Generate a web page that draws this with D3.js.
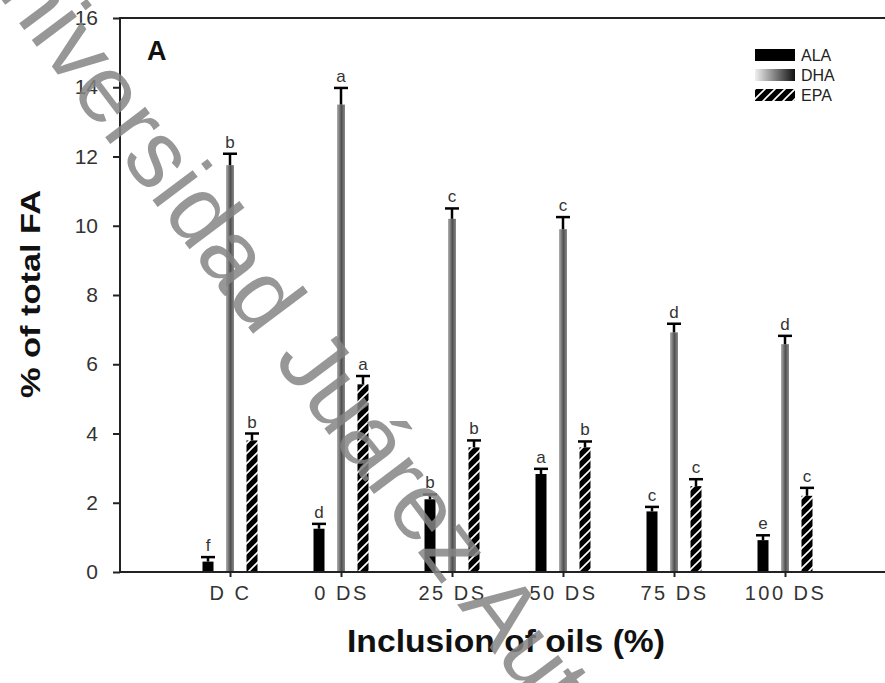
<!DOCTYPE html>
<html>
<head>
<meta charset="utf-8">
<script src="https://cdn.jsdelivr.net/npm/d3@7"></script>
<style>
  body { margin: 0; background: #fff; }
  svg { display: block; }
</style>
</head>
<body>
<svg id="chart" width="885" height="683"></svg>
<script>
const categories = ['D C', '0 DS', '25 DS', '50 DS', '75 DS', '100 DS'];
const series = ['ALA', 'DHA', 'EPA'];

const alaMean = [0.3, 1.25, 2.1, 2.83, 1.75, 0.92];
const alaErr = [0.13, 0.14, 0.14, 0.15, 0.13, 0.14];
const alaLetters = ['f', 'd', 'b', 'a', 'c', 'e'];

const dhaMean = [11.75, 13.5, 10.2, 9.9, 6.92, 6.58];
const dhaErr = [0.33, 0.48, 0.3, 0.35, 0.25, 0.24];
const dhaLetters = ['b', 'a', 'c', 'c', 'd', 'd'];

const epaMean = [3.8, 5.42, 3.6, 3.6, 2.48, 2.2];
const epaErr = [0.2, 0.24, 0.2, 0.17, 0.2, 0.23];
const epaLetters = ['b', 'a', 'b', 'b', 'c', 'c'];

const yTicks = [0, 2, 4, 6, 8, 10, 12, 14, 16];

const svg = d3.select('#chart');
const defs = svg.append('defs');

// hatch for EPA
const hatch = defs.append('pattern')
    .attr('id', 'hatch')
    .attr('patternUnits', 'userSpaceOnUse')
    .attr('width', 10)
    .attr('height', 10);
hatch.append('rect').attr('width', 10).attr('height', 10).attr('fill', '#000');
hatch.append('path')
    .attr('d', 'M-2,2 L2,-2 M0,10 L10,0 M8,12 L12,8')
    .attr('stroke', '#fff')
    .attr('stroke-width', 1.6);

// gradient for DHA bars and legend swatch
const barGrad = defs.append('linearGradient').attr('id', 'dhaBar');
barGrad.append('stop').attr('offset', '0%').attr('stop-color', '#b0b0b0');
barGrad.append('stop').attr('offset', '55%').attr('stop-color', '#505050');
barGrad.append('stop').attr('offset', '100%').attr('stop-color', '#8a8a8a');

const legGrad = defs.append('linearGradient').attr('id', 'dhaLegend');
legGrad.append('stop').attr('offset', '0%').attr('stop-color', '#f0f0f0');
legGrad.append('stop').attr('offset', '100%').attr('stop-color', '#111');

const x = d3.scalePoint().domain(categories).range([230, 785]);
const xs = d3.scalePoint().domain(series).range([-22, 22]);
const y = d3.scaleLinear().domain([0, 16]).range([572, 18]);

const left = 120, right = 885;

const fills = { ALA: '#000', DHA: 'url(#dhaBar)', EPA: 'url(#hatch)' };
const widths = { ALA: 11, DHA: 8, EPA: 11 };

const rows = [];
categories.forEach((c, i) => {
    rows.push({ cat: c, s: 'ALA', v: alaMean[i], e: alaErr[i], l: alaLetters[i] });
    rows.push({ cat: c, s: 'DHA', v: dhaMean[i], e: dhaErr[i], l: dhaLetters[i] });
    rows.push({ cat: c, s: 'EPA', v: epaMean[i], e: epaErr[i], l: epaLetters[i] });
});

// axes
const yAxis = svg.append('g')
    .attr('transform', `translate(${left},0)`)
    .call(d3.axisLeft(y).tickValues(yTicks).tickSize(7).tickPadding(15));
yAxis.select('.domain').remove();
yAxis.selectAll('line').attr('stroke', '#222').attr('stroke-width', 2);
yAxis.selectAll('text')
    .attr('font-family', 'Liberation Sans, Arial, sans-serif')
    .attr('font-size', 21)
    .attr('fill', '#333');

const xAxis = svg.append('g')
    .attr('transform', `translate(0,${y(0)})`)
    .call(d3.axisBottom(x).tickSize(5).tickPadding(9));
xAxis.select('.domain').remove();
xAxis.selectAll('line').attr('stroke', '#222').attr('stroke-width', 2);
xAxis.selectAll('text')
    .attr('font-family', 'Liberation Sans, Arial, sans-serif')
    .attr('font-size', 20)
    .attr('letter-spacing', 2.5)
    .attr('fill', '#333');

// bars
svg.append('g').selectAll('rect')
    .data(rows)
    .join('rect')
    .attr('x', d => x(d.cat) + xs(d.s) - widths[d.s] / 2)
    .attr('y', d => y(d.v))
    .attr('width', d => widths[d.s])
    .attr('height', d => y(0) - y(d.v))
    .attr('fill', d => fills[d.s]);

// error bars (upper half only)
const err = svg.append('g').attr('stroke', '#000').attr('stroke-width', 2.5);
err.selectAll('line.v')
    .data(rows)
    .join('line')
    .attr('class', 'v')
    .attr('x1', d => x(d.cat) + xs(d.s))
    .attr('x2', d => x(d.cat) + xs(d.s))
    .attr('y1', d => y(d.v))
    .attr('y2', d => y(d.v + d.e));
err.selectAll('line.c')
    .data(rows)
    .join('line')
    .attr('class', 'c')
    .attr('x1', d => x(d.cat) + xs(d.s) - 7)
    .attr('x2', d => x(d.cat) + xs(d.s) + 7)
    .attr('y1', d => y(d.v + d.e))
    .attr('y2', d => y(d.v + d.e));

// significance letters
svg.append('g').selectAll('text')
    .data(rows)
    .join('text')
    .attr('x', d => x(d.cat) + xs(d.s))
    .attr('y', d => y(d.v + d.e) - 6)
    .attr('text-anchor', 'middle')
    .attr('font-family', 'Liberation Sans, Arial, sans-serif')
    .attr('font-size', 17)
    .attr('fill', '#333')
    .text(d => d.l);

// frame lines
const frame = svg.append('g').attr('stroke', '#222').attr('stroke-width', 2);
frame.append('line').attr('x1', left).attr('x2', left).attr('y1', y(16)).attr('y2', y(0));
frame.append('line').attr('x1', left - 1).attr('x2', right).attr('y1', y(0)).attr('y2', y(0));
frame.append('line').attr('x1', left - 1).attr('x2', right).attr('y1', y(16)).attr('y2', y(16));

// panel letter
svg.append('text')
    .attr('x', 147).attr('y', 60)
    .attr('font-family', 'Liberation Sans, Arial, sans-serif')
    .attr('font-weight', 'bold')
    .attr('font-size', 27)
    .attr('fill', '#111')
    .text('A');

// legend
const legend = svg.append('g').attr('transform', 'translate(755,49)');
series.forEach((s, i) => {
    const g = legend.append('g').attr('transform', `translate(0,${i * 20})`);
    g.append('rect').attr('width', 40).attr('height', 12)
        .attr('fill', s === 'DHA' ? 'url(#dhaLegend)' : fills[s]);
    g.append('text')
        .attr('x', 46).attr('y', 12)
        .attr('font-family', 'Liberation Sans, Arial, sans-serif')
        .attr('font-size', 16)
        .attr('fill', '#222')
        .text(s);
});

// axis titles
svg.append('text')
    .attr('transform', 'translate(40,294) rotate(-90)')
    .attr('text-anchor', 'middle')
    .attr('font-family', 'Liberation Sans, Arial, sans-serif')
    .attr('font-weight', 'bold')
    .attr('font-size', 27)
    .attr('textLength', 208)
    .attr('lengthAdjust', 'spacingAndGlyphs')
    .attr('fill', '#111')
    .text('% of total FA');

svg.append('text')
    .attr('x', 506).attr('y', 652)
    .attr('text-anchor', 'middle')
    .attr('font-family', 'Liberation Sans, Arial, sans-serif')
    .attr('font-weight', 'bold')
    .attr('font-size', 32)
    .attr('textLength', 318)
    .attr('lengthAdjust', 'spacingAndGlyphs')
    .attr('fill', '#111')
    .text('Inclusion of oils (%)');

// watermark
svg.append('text')
    .attr('transform', 'translate(-45,-62) rotate(53)')
    .attr('font-family', 'Liberation Sans, Arial, sans-serif')
    .attr('font-size', 95)
    .attr('fill', '#858585')
    .attr('fill-opacity', 0.85)
    .text('Universidad Juárez Autónoma de Tabasco');
</script>
</body>
</html>
